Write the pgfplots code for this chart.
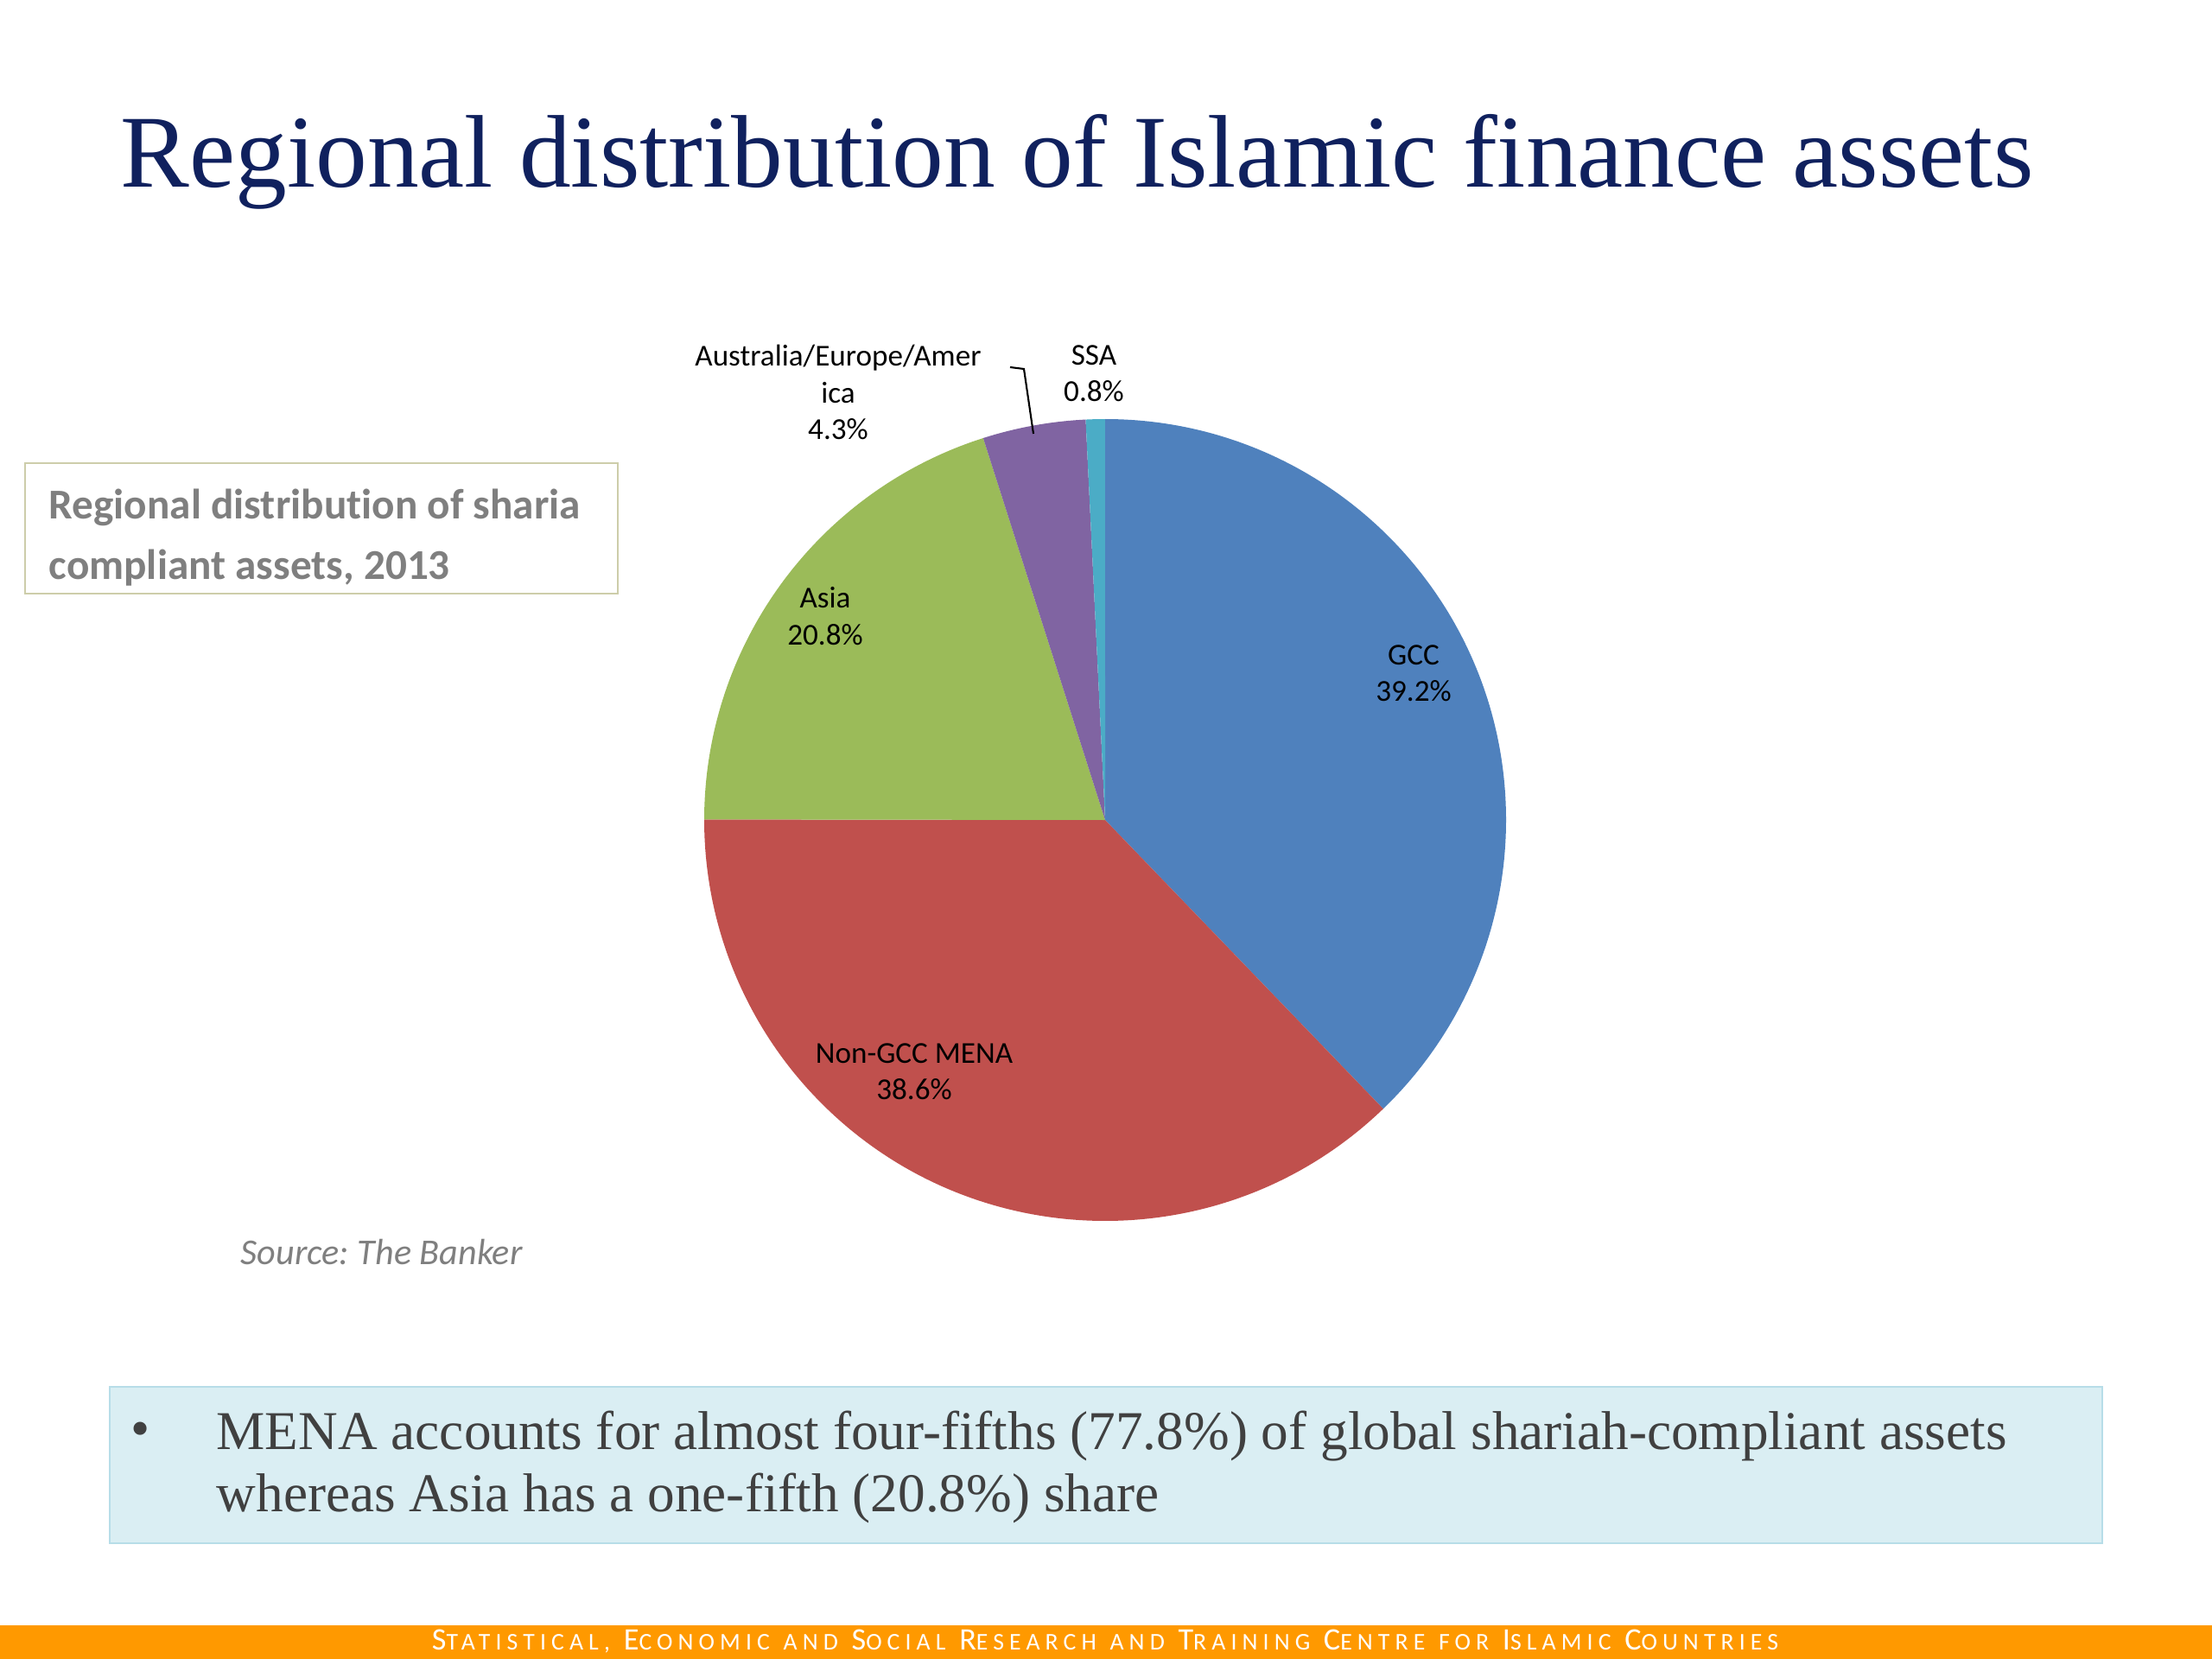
\documentclass[border=0pt]{standalone}
\usepackage{pgfplots}
\pgfplotsset{compat=1.18}
\usepackage{fontspec}
\setmainfont{Carlito}[Ligatures=NoCommon]
\newfontfamily\serif{Liberation Serif}
\frenchspacing

\definecolor{titleblue}{RGB}{16,33,94}
\definecolor{gcc}{HTML}{4F81BD}
\definecolor{mena}{HTML}{C0504D}
\definecolor{asia}{HTML}{9BBB59}
\definecolor{aus}{HTML}{8064A2}
\definecolor{ssa}{HTML}{4BACC6}
\definecolor{boxline}{RGB}{205,205,170}
\definecolor{greytext}{RGB}{127,127,127}
\definecolor{notefill}{HTML}{DAEEF3}
\definecolor{noteline}{HTML}{B7DDE8}
\definecolor{notetext}{RGB}{64,64,64}
\definecolor{footer}{RGB}{255,153,0}

% fake small caps for the footer
\newcommand\fsc[2]{{\fontsize{10.3}{11}\selectfont #1}{\fontsize{7.9}{9}\selectfont\MakeUppercase{#2}}}

\begin{document}
\begin{tikzpicture}
\useasboundingbox (0,0) rectangle (25.6cm,19.2cm);

% shares in percent (they add up to 103.7, the pie is normalised)
\pgfmathsetmacro\tot{39.2+38.6+20.8+4.3+0.8}
\pgfmathsetmacro\aA{90}
\pgfmathsetmacro\aB{\aA-39.2/\tot*360}
\pgfmathsetmacro\aC{\aB-38.6/\tot*360}
\pgfmathsetmacro\aD{\aC-20.8/\tot*360}
\pgfmathsetmacro\aE{\aD-4.3/\tot*360}
\pgfmathsetmacro\aF{\aE-0.8/\tot*360}

\begin{axis}[
    at={(0,0)}, anchor=south west,
    width=25.6cm, height=19.2cm, scale only axis,
    xmin=0, xmax=2560, ymin=0, ymax=1920,
    y dir=reverse,
    hide axis, clip=false
]
    % title
    \node[anchor=base west, inner sep=0pt, text=titleblue, font=\serif\fontsize{34}{36}\selectfont]
        at (axis cs:139,217) {Regional distribution of Islamic finance assets};

    % caption box
    \draw[boxline, line width=0.8pt] (axis cs:29,536) rectangle (axis cs:715,687);
    \node[anchor=base west, inner sep=0pt, text=greytext, font=\bfseries\fontsize{14}{16}\selectfont]
        at (axis cs:56,601) {Regional distribution of sharia};
    \node[anchor=base west, inner sep=0pt, text=greytext, font=\bfseries\fontsize{14}{16}\selectfont]
        at (axis cs:56,670) {compliant assets, 2013};

    % pie
    \fill[gcc]  (axis cs:1279,949) -- ++(\aA:4.64cm) arc[start angle=\aA, end angle=\aB, radius=4.64cm] -- cycle;
    \fill[mena] (axis cs:1279,949) -- ++(\aB:4.64cm) arc[start angle=\aB, end angle=\aC, radius=4.64cm] -- cycle;
    \fill[asia] (axis cs:1279,949) -- ++(\aC:4.64cm) arc[start angle=\aC, end angle=\aD, radius=4.64cm] -- cycle;
    \fill[aus]  (axis cs:1279,949) -- ++(\aD:4.64cm) arc[start angle=\aD, end angle=\aE, radius=4.64cm] -- cycle;
    \fill[ssa]  (axis cs:1279,949) -- ++(\aE:4.64cm) arc[start angle=\aE, end angle=\aF, radius=4.64cm] -- cycle;

    % data labels
    \tikzset{lbl/.style={align=center, font=\fontsize{10}{12}\selectfont, inner sep=0pt}}
    \node[lbl] at (axis cs:1636,779) {GCC\\39.2\%};
    \node[lbl] at (axis cs:1058,1240) {Non-GCC MENA\\38.6\%};
    \node[lbl] at (axis cs:955,713) {Asia\\20.8\%};
    \node[lbl] at (axis cs:970,454) {Australia/Europe/Amer\\ica\\4.3\%};
    \node[lbl] at (axis cs:1266,432) {SSA\\0.8\%};
    \draw[black, line width=0.6pt] (axis cs:1169,425) -- (axis cs:1185,427) -- (axis cs:1196,502);

    % source
    \node[anchor=base west, inner sep=0pt, text=greytext, font=\itshape\fontsize{12}{14}\selectfont]
        at (axis cs:278,1463) {Source: The Banker};

    % note box
    \draw[noteline, fill=notefill, line width=0.6pt] (axis cs:127,1605) rectangle (axis cs:2433,1786);
    \node[text=notetext, font=\serif\fontsize{18}{20}\selectfont] at (axis cs:163,1660) {•};
    \node[anchor=base west, text=notetext, font=\serif\fontsize{18}{20}\selectfont, inner sep=0pt]
        at (axis cs:250,1677) {MENA accounts for almost four-fifths (77.8\%) of global shariah-compliant assets};
    \node[anchor=base west, text=notetext, font=\serif\fontsize{18}{20}\selectfont, inner sep=0pt]
        at (axis cs:250,1749) {whereas Asia has a one-fifth (20.8\%) share};

    % footer bar
    \fill[footer] (axis cs:0,1881) rectangle (axis cs:2560,1920);
    \node[anchor=base, text=white, inner sep=0pt] at (axis cs:1279,1909)
        {\addfontfeature{LetterSpace=22}\fsc{S}{tatistical,} \fsc{E}{conomic} \fsc{}{and} \fsc{S}{ocial} \fsc{R}{esearch} \fsc{}{and} \fsc{T}{raining} \fsc{C}{entre} \fsc{}{for} \fsc{I}{slamic} \fsc{C}{ountries}};
\end{axis}
\end{tikzpicture}
\end{document}
